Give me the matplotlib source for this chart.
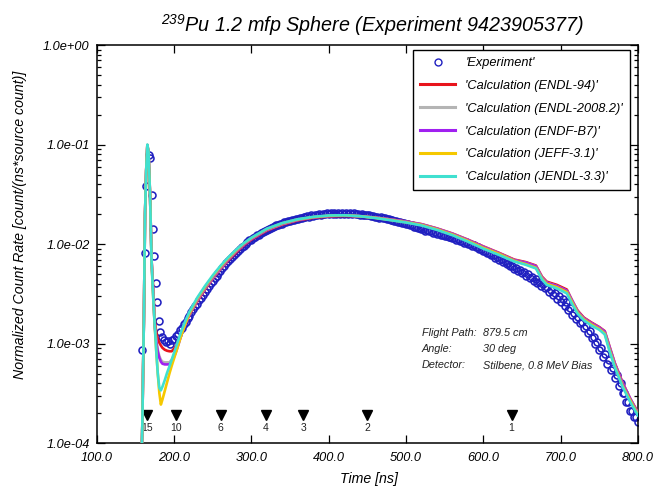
import matplotlib
matplotlib.use("Agg")
import matplotlib.pyplot as plt
from matplotlib.ticker import FixedLocator, FuncFormatter, LogLocator, NullFormatter

plt.rcParams['font.family'] = ['Liberation Sans', 'DejaVu Sans']
plt.rcParams['font.style'] = 'italic'
plt.rcParams['mathtext.fontset'] = 'custom'
plt.rcParams['mathtext.rm'] = 'Liberation Sans:italic'
plt.rcParams['mathtext.it'] = 'Liberation Sans:italic'
plt.rcParams['mathtext.default'] = 'regular'

# ---------------- data ----------------
exp_time = [159.0, 162.5, 163.8, 167.6, 169.0, 171.0, 173.2, 174.5, 176.3, 178.4, 180.6, 182.5,
            185, 187.5, 190, 192.5, 195, 197.5, 200, 202.5, 205, 207.5, 210, 212.5, 215, 217.5,
            220, 222.5, 225, 227.5, 230, 232.5, 235, 237.5, 240, 242.5, 245, 247.5, 250, 252.5,
            255, 257.5, 260, 262.5, 265, 267.5, 270, 272.5, 275, 277.5, 280, 282.5, 285, 287.5,
            290, 292.5, 295, 297.5, 300, 302.5, 305, 307.5, 310, 312.5, 315, 317.5, 320, 322.5,
            325, 327.5, 330, 332.5, 335, 337.5, 340, 342.5, 345, 347.5, 350, 352.5, 355, 357.5,
            360, 362.5, 365, 367.5, 370, 372.5, 375, 377.5, 380, 382.5, 385, 387.5, 390, 392.5,
            395, 397.5, 400, 402.5, 405, 407.5, 410, 412.5, 415, 417.5, 420, 422.5, 425, 427.5,
            430, 432.5, 435, 437.5, 440, 442.5, 445, 447.5, 450, 452.5, 455, 457.5, 460, 462.5,
            465, 467.5, 470, 472.5, 475, 477.5, 480, 482.5, 485, 487.5, 490, 492.5, 495, 497.5,
            500, 502.5, 505, 507.5, 510, 512.5, 515, 517.5, 520, 522.5, 525, 527.5, 530, 532.5,
            535, 537.5, 540, 542.5, 545, 547.5, 550, 552.5, 555, 557.5, 560, 562.5, 565, 567.5,
            570, 572.5, 575, 577.5, 580, 582.5, 585, 587.5, 590, 592.5, 595, 597.5, 600, 602.5,
            605, 607.5, 610, 612.5, 615, 617.5, 620, 622.5, 625, 627.5, 630, 632.5, 635, 637.5,
            640, 642.5, 645, 647.5, 650, 652.5, 655, 657.5, 660, 662.5, 665, 667.5, 670, 672.5,
            675, 677.5, 680, 682.5, 685, 687.5, 690, 692.5, 695, 697.5, 700, 702.5, 705, 707.5,
            710, 712.5, 715, 717.5, 720, 722.5, 725, 727.5, 730, 732.5, 735, 737.5, 740, 742.5,
            745, 747.5, 750, 752.5, 755, 757.5, 760, 762.5, 765, 767.5, 770, 772.5, 775, 777.5,
            780, 782.5, 785, 787.5, 790, 792.5, 795, 797.5, 800]
exp_rate = [8.7e-4, 8.1e-3, 0.038, 0.079, 0.073, 0.031, 0.0141, 0.0076, 0.0041, 0.0026, 0.0017, 0.00132,
            1.18e-3, 1.10e-3, 1.03e-3, 1.07e-3, 1.00e-3, 1.08e-3, 1.11e-3, 1.19e-3, 1.25e-3, 1.37e-3, 1.44e-3, 1.56e-3, 1.64e-3, 1.80e-3,
            1.90e-3, 2.08e-3, 2.21e-3, 2.40e-3, 2.53e-3, 2.74e-3, 2.88e-3, 3.12e-3, 3.27e-3, 3.55e-3, 3.76e-3, 4.05e-3, 4.26e-3, 4.58e-3,
            4.82e-3, 5.15e-3, 5.42e-3, 5.75e-3, 6.02e-3, 6.42e-3, 6.72e-3, 7.10e-3, 7.42e-3, 7.82e-3, 8.12e-3, 8.55e-3, 8.88e-3, 9.32e-3,
            9.62e-3, 0.0101, 0.0104, 0.0109, 0.0111, 0.0116, 0.0118, 0.0123, 0.0125, 0.0130, 0.0132, 0.0137, 0.0138, 0.0143,
            0.0145, 0.0150, 0.0151, 0.0155, 0.0156, 0.0161, 0.0161, 0.0166, 0.0166, 0.0170, 0.0170, 0.0175, 0.0174, 0.0179,
            0.0178, 0.0183, 0.0182, 0.0187, 0.0186, 0.0190, 0.0189, 0.0194, 0.0193, 0.0197, 0.0196, 0.0200, 0.0198, 0.0203,
            0.0200, 0.0205, 0.0202, 0.0206, 0.0203, 0.0207, 0.0203, 0.0207, 0.0203, 0.0207, 0.0203, 0.0206, 0.0202, 0.0206,
            0.0201, 0.0204, 0.0200, 0.0203, 0.0198, 0.0200, 0.0196, 0.0198, 0.0194, 0.0196, 0.0191, 0.0193, 0.0188, 0.0189,
            0.0185, 0.0186, 0.0182, 0.0183, 0.0179, 0.0180, 0.0175, 0.0176, 0.0171, 0.0172, 0.0167, 0.0168, 0.0163, 0.0163,
            0.0158, 0.0159, 0.0154, 0.0154, 0.0149, 0.0150, 0.0145, 0.0146, 0.0141, 0.0142, 0.0137, 0.0138, 0.0134, 0.0135,
            0.0130, 0.0131, 0.0127, 0.0128, 0.0123, 0.0124, 0.0120, 0.0121, 0.0117, 0.0118, 0.0114, 0.0115, 0.0110, 0.0112,
            0.0107, 0.0108, 0.0103, 0.0105, 0.0100, 0.0101, 0.0096, 0.0098, 0.0093, 0.0094, 0.0089, 0.0090, 0.0085, 0.0086,
            0.0081, 0.0082, 0.0077, 0.0078, 0.0073, 0.0074, 0.0069, 0.0071, 0.0066, 0.0067, 0.0063, 0.0064, 0.0060, 0.0061,
            0.0056, 0.0058, 0.0054, 0.0055, 0.0051, 0.0052, 0.0048, 0.0050, 0.0046, 0.0047, 0.0043, 0.0045, 0.0041, 0.0042,
            0.0038, 0.0040, 0.0036, 0.0037, 0.0033, 0.0035, 0.0031, 0.0032, 0.0028, 0.0030, 0.0026, 0.0028, 0.0024, 0.0026,
            0.0022, 0.0023, 0.00196, 0.00205, 0.00176, 0.00184, 0.00160, 0.00166, 0.00143, 0.00150, 0.00127, 0.00133, 0.00113, 0.00118,
            0.00099, 0.00104, 0.00086, 0.00091, 0.00074, 0.00079, 0.00063, 0.00068, 0.00054, 0.00057, 0.00045, 0.00048, 0.00038, 0.00040,
            0.00032, 0.00032, 0.00026, 0.00026, 0.00021, 0.00021, 0.000185, 0.000182, 0.000165]

calc_time = [150, 157, 159, 160, 161, 162.5, 164, 165.5, 167, 169, 171,
             173, 175, 177, 179, 181, 183, 185, 188, 191, 194, 197, 200, 203, 206, 210, 215, 220,
             230, 240, 250, 260, 270, 280, 290, 300, 320, 340, 360, 380, 400, 420, 440, 460, 480, 500,
             520, 540, 560, 580, 600, 620, 640, 655, 668, 676, 682, 695, 708, 715, 722, 730, 740,
             750, 757, 763, 770, 780, 790, 800]

endl94 = [1e-5, 3e-5, 1.5e-4, 5.5e-4, 1.7e-3, 0.02, 0.055, 0.098, 0.083, 0.031, 0.0068,
          3.7e-3, 1.75e-3, 1.3e-3, 1.12e-3, 1.02e-3, 9.6e-4, 9.1e-4, 8.7e-4, 8.5e-4, 8.4e-4, 8.4e-4, 8.9e-4, 9.6e-4, 1.06e-3, 1.28e-3, 1.6e-3, 1.95e-3,
          2.65e-3, 3.5e-3, 4.5e-3, 5.6e-3, 6.85e-3, 8.2e-3, 0.0097, 0.0111, 0.0137, 0.0157, 0.0173, 0.0184, 0.0190, 0.0192, 0.0190, 0.0184, 0.0177, 0.0169,
          0.0159, 0.0144, 0.0128, 0.0111, 0.0095, 0.0082, 0.0070, 0.0066, 0.0061, 0.0047, 0.0042, 0.0039, 0.0035, 0.0027, 0.00215, 0.00183, 0.00163,
          0.00147, 0.00134, 0.00095, 0.00064, 0.00041, 0.00028, 0.000205]
endl2008 = [1e-5, 3e-5, 1.5e-4, 5.5e-4, 1.7e-3, 0.02, 0.055, 0.098, 0.083, 0.031, 0.0067,
            3.4e-3, 1.55e-3, 1.1e-3, 8.7e-4, 7.5e-4, 6.9e-4, 6.6e-4, 6.5e-4, 6.5e-4, 6.5e-4, 6.9e-4, 7.7e-4, 8.8e-4, 1.02e-3, 1.28e-3, 1.62e-3, 1.98e-3,
            2.72e-3, 3.58e-3, 4.58e-3, 5.7e-3, 7.0e-3, 8.4e-3, 0.0099, 0.0113, 0.0139, 0.0159, 0.0175, 0.0186, 0.0192, 0.0194, 0.0191, 0.0185, 0.0177, 0.0168,
            0.0158, 0.0143, 0.0127, 0.0110, 0.0094, 0.0081, 0.0069, 0.0065, 0.0060, 0.0046, 0.0041, 0.0038, 0.0034, 0.0027, 0.0021, 0.0018, 0.0016,
            0.00145, 0.00132, 0.00093, 0.00063, 0.0004, 0.00028, 0.0002]
endfb7 = [1e-5, 3e-5, 1.5e-4, 5.5e-4, 1.7e-3, 0.02, 0.055, 0.099, 0.084, 0.031, 0.0067,
          3.3e-3, 1.5e-3, 1.05e-3, 8.3e-4, 7.2e-4, 6.6e-4, 6.3e-4, 6.2e-4, 6.2e-4, 6.2e-4, 6.6e-4, 7.4e-4, 8.5e-4, 1.0e-3, 1.27e-3, 1.62e-3, 2.0e-3,
          2.75e-3, 3.62e-3, 4.62e-3, 5.75e-3, 7.05e-3, 8.45e-3, 0.0099, 0.0113, 0.0140, 0.0160, 0.0175, 0.0186, 0.0192, 0.0194, 0.0191, 0.0185, 0.0177, 0.0168,
          0.0158, 0.0143, 0.0127, 0.0110, 0.0094, 0.0081, 0.0069, 0.0065, 0.0060, 0.0046, 0.0041, 0.0038, 0.0034, 0.0027, 0.0021, 0.0018, 0.0016,
          0.00145, 0.00132, 0.00093, 0.00063, 0.0004, 0.00028, 0.0002]
jeff31 = [1e-5, 3e-5, 1.5e-4, 5.5e-4, 1.7e-3, 0.02, 0.055, 0.099, 0.084, 0.031, 0.0066,
          3.0e-3, 1.55e-3, 8.5e-4, 5.0e-4, 3.2e-4, 2.45e-4, 2.75e-4, 3.35e-4, 4.1e-4, 5.0e-4, 6.0e-4, 7.1e-4, 8.4e-4, 1.0e-3, 1.25e-3, 1.62e-3, 2.02e-3,
          2.82e-3, 3.7e-3, 4.75e-3, 5.9e-3, 7.2e-3, 8.6e-3, 0.0101, 0.0115, 0.0142, 0.0162, 0.0177, 0.0187, 0.0193, 0.0195, 0.0191, 0.0184, 0.0175, 0.0166,
          0.0156, 0.0141, 0.0125, 0.0108, 0.0092, 0.0080, 0.0068, 0.0063, 0.0058, 0.0045, 0.0040, 0.0037, 0.0033, 0.0026, 0.00205, 0.00176, 0.00156,
          0.00141, 0.00127, 0.00088, 0.0006, 0.00038, 0.00027, 0.000195]
jendl33 = [1e-5, 3e-5, 1.5e-4, 5.5e-4, 1.7e-3, 0.02, 0.055, 0.1, 0.085, 0.031, 0.0066,
           3.0e-3, 1.55e-3, 8.5e-4, 5.0e-4, 3.6e-4, 3.4e-4, 3.7e-4, 4.3e-4, 5.1e-4, 5.9e-4, 6.9e-4, 8.1e-4, 9.5e-4, 1.12e-3, 1.38e-3, 1.72e-3, 2.1e-3,
           2.9e-3, 3.8e-3, 4.85e-3, 6.05e-3, 7.35e-3, 8.75e-3, 0.0102, 0.0116, 0.0143, 0.0163, 0.0178, 0.0188, 0.0194, 0.0195, 0.0191, 0.0183, 0.0174, 0.0165,
           0.0154, 0.0139, 0.0123, 0.0106, 0.0090, 0.0078, 0.0067, 0.0062, 0.0057, 0.0044, 0.0039, 0.0036, 0.0032, 0.0025, 0.0020, 0.00172, 0.00152,
           0.00138, 0.00124, 0.00085, 0.00058, 0.00037, 0.00026, 0.00019]

calc_labels = ["'Calculation (ENDL-94)'", "'Calculation (ENDL-2008.2)'", "'Calculation (ENDF-B7)'",
               "'Calculation (JEFF-3.1)'", "'Calculation (JENDL-3.3)'"]
calc_colors = ['#e8141c', '#b4b4b4', '#a020f0', '#f5c800', '#40e0d0']

energy_time = [165, 202.5, 260.5, 318.5, 367, 449.5, 636.5]
energy_labels = ['15', '10', '6', '4', '3', '2', '1']
marker_level = 1.93e-4
label_level = 1.43e-4

x_ticks = [100, 200, 300, 400, 500, 600, 700, 800]
y_ticks = [1e-4, 1e-3, 1e-2, 1e-1, 1e0]

# ---------------- figure ----------------
W, H = 669, 487
fig = plt.figure(figsize=(W / 100, H / 100), dpi=100)
L, R, T, B = 96.7, 638.0, 45.0, 443.3
ax = fig.add_axes([L / W, 1 - B / H, (R - L) / W, (B - T) / H])

for vals, lab, col in zip([endl94, endl2008, endfb7, jeff31, jendl33], calc_labels, calc_colors):
    ax.plot(calc_time, vals, color=col, lw=1.9, label=lab, zorder=3, solid_joinstyle='round')

ax.plot(exp_time, exp_rate, linestyle='none', marker='o', markersize=5.0, markerfacecolor='none',
        markeredgecolor='#2020c0', markeredgewidth=1.15, label="'Experiment'", zorder=2)

ax.plot(energy_time, [marker_level] * len(energy_time), linestyle='none', marker='v',
        markersize=6.5, color='black', zorder=1)
for t, lab in zip(energy_time, energy_labels):
    ax.text(t, label_level, lab, ha='center', va='center', fontsize=7.5, fontstyle='normal',
            color='#222222', zorder=1)

ax.set_yscale('log')
ax.set_xlim(100, 800)
ax.set_ylim(1e-4, 1e0)

ax.xaxis.set_major_locator(FixedLocator(x_ticks))
ax.xaxis.set_major_formatter(FuncFormatter(lambda v, p: f"{v:.1f}"))
ax.yaxis.set_major_locator(FixedLocator(y_ticks))
ax.yaxis.set_major_formatter(FuncFormatter(lambda v, p: f"{v:.1e}"))
ax.yaxis.set_minor_locator(LogLocator(base=10, subs=range(2, 10)))
ax.yaxis.set_minor_formatter(NullFormatter())

ax.tick_params(which='both', direction='in', top=True, right=True, labelsize=9.2, width=0.9)
ax.tick_params(which='major', length=6)
ax.tick_params(which='minor', length=3)
ax.tick_params(axis='x', pad=6)
ax.tick_params(axis='y', pad=5)
for sp in ax.spines.values():
    sp.set_linewidth(1.1)

ax.set_xlabel('Time [ns]', fontsize=10.2)
ax.set_ylabel('Normalized Count Rate [count/(ns*source count)]', fontsize=10.2)
ax.xaxis.set_label_coords((369 - L) / (R - L), (B - 472) / (B - T))
ax.yaxis.set_label_coords((27 - L) / (R - L), (B - 225) / (B - T))

fig.text(373 / W, 1 - 32 / H, r'$^{239}$Pu 1.2 mfp Sphere (Experiment 9423905377)',
         ha='center', va='baseline', fontsize=14.2)

handles, labels = ax.get_legend_handles_labels()
order = [5, 0, 1, 2, 3, 4]
leg = ax.legend([handles[i] for i in order], [labels[i] for i in order],
                loc='upper right', bbox_to_anchor=((630 - L) / (R - L), (B - 50) / (B - T)),
                borderaxespad=0, fontsize=9.2, handlelength=2.75, handletextpad=0.8,
                labelspacing=0.85, borderpad=0.55, numpoints=1, fancybox=False, framealpha=1)
leg.get_frame().set_edgecolor('black')
leg.get_frame().set_linewidth(1.0)
for lh in leg.get_lines():
    lh.set_linewidth(2.2)
leg.get_lines()[0].set_markeredgewidth(1.0)

info = [('Flight Path:', '879.5 cm'), ('Angle:', '30 deg'), ('Detector:', 'Stilbene, 0.8 MeV Bias')]
for i, (k, v) in enumerate(info):
    y = 1 - (332.7 + i * 16.2) / H
    fig.text(421.7 / W, y, k, ha='left', va='center', fontsize=7.8, color='#222222')
    fig.text(482.7 / W, y, v, ha='left', va='center', fontsize=7.8, color='#222222')

fig.savefig('out.png', dpi=100)
